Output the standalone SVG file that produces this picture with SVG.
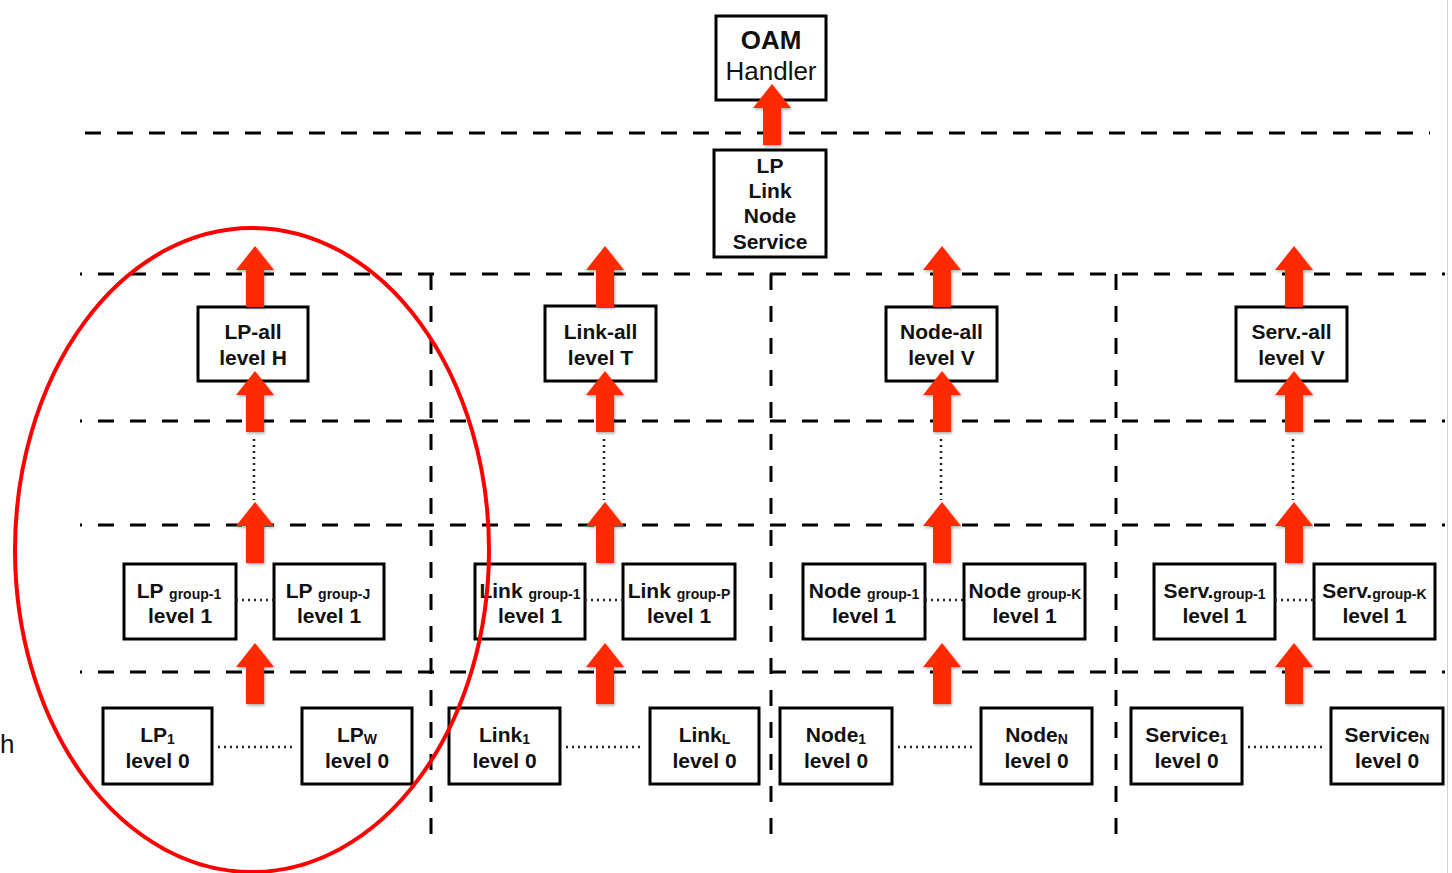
<svg xmlns="http://www.w3.org/2000/svg" width="1452" height="873" viewBox="0 0 1452 873">
<style>
.box{fill:#fff;stroke:#000;stroke-width:3}
.t{font-family:"Liberation Sans",Arial,sans-serif;font-weight:bold;font-size:21px;fill:#111;text-anchor:middle}
.s{font-size:14px;font-weight:bold}
.g{font-size:14px;font-weight:bold}
.dash{stroke:#000;stroke-width:3;stroke-dasharray:16 16;fill:none}
.dot{stroke:#222;stroke-width:2.5;stroke-dasharray:2 4;fill:none}
.arr{fill:#ff2a00;filter:url(#sh)}
</style>
<defs>
<filter id="sh" x="-50%" y="-50%" width="200%" height="200%"><feDropShadow dx="1" dy="1.5" stdDeviation="1.5" flood-color="#000" flood-opacity="0.35"/></filter>
<path id="arrow" d="M0 0 L19 24 L9 24 L9 61 L-9 61 L-9 24 L-19 24 Z"/>
</defs>
<rect width="1452" height="873" fill="#fff"/>
<line x1="1447.5" y1="0" x2="1447.5" y2="873" stroke="#d0d0d0" stroke-width="1"/>
<text x="0" y="753" style="font-family:'Liberation Sans',Arial,sans-serif;font-size:26px;fill:#111">h</text>
<g id="grid">
<line class="dash" x1="85" y1="133" x2="1430" y2="133"/>
<line class="dash" x1="80" y1="274" x2="1445" y2="274" stroke-dashoffset="14"/>
<line class="dash" x1="80" y1="421" x2="1445" y2="421" stroke-dashoffset="14"/>
<line class="dash" x1="80" y1="525" x2="1445" y2="525" stroke-dashoffset="14"/>
<line class="dash" x1="80" y1="672" x2="1445" y2="672" stroke-dashoffset="14"/>
<line class="dash" x1="431" y1="274" x2="431" y2="840"/>
<line class="dash" x1="771" y1="274" x2="771" y2="840"/>
<line class="dash" x1="1116" y1="274" x2="1116" y2="845"/>
</g>
<g id="n-oam"><rect class="box" x="716" y="16" width="110" height="84"/>
<text class="t" x="771" y="49" style="font-size:26px">OAM</text>
<text class="t" x="771" y="80" style="font-size:26px;font-weight:normal">Handler</text></g>
<g id="n-all"><rect class="box" x="714" y="150" width="112" height="107"/>
<text class="t" x="770" y="173">LP</text><text class="t" x="770" y="198">Link</text><text class="t" x="770" y="223">Node</text><text class="t" x="770" y="249">Service</text></g>
<g id="n-lpall"><rect class="box" x="198" y="307" width="110" height="74"/><text class="t" x="253" y="339">LP-all</text><text class="t" x="253" y="365">level H</text></g>
<g id="n-linkall"><rect class="box" x="545" y="306" width="111" height="75"/><text class="t" x="600.5" y="339">Link-all</text><text class="t" x="600.5" y="365">level T</text></g>
<g id="n-nodeall"><rect class="box" x="886" y="307" width="111" height="74"/><text class="t" x="941.5" y="339">Node-all</text><text class="t" x="941.5" y="365">level V</text></g>
<g id="n-servall"><rect class="box" x="1236" y="307" width="111" height="74"/><text class="t" x="1291.5" y="339">Serv.-all</text><text class="t" x="1291.5" y="365">level V</text></g>
<g id="n-lpg1"><rect class="box" x="124" y="564" width="112" height="75"/><text class="t" x="179" y="598">LP <tspan class="g" dy="1">group-1</tspan></text><text class="t" x="180" y="623">level 1</text></g>
<g id="n-lpgj"><rect class="box" x="274" y="564" width="110" height="75"/><text class="t" x="328" y="598">LP <tspan class="g" dy="1">group-J</tspan></text><text class="t" x="329" y="623">level 1</text></g>
<g id="n-linkg1"><rect class="box" x="475" y="564" width="110" height="75"/><text class="t" x="530" y="598">Link <tspan class="g" dy="1">group-1</tspan></text><text class="t" x="530" y="623">level 1</text></g>
<g id="n-linkgp"><rect class="box" x="623" y="564" width="112" height="75"/><text class="t" x="679" y="598">Link <tspan class="g" dy="1">group-P</tspan></text><text class="t" x="679" y="623">level 1</text></g>
<g id="n-nodeg1"><rect class="box" x="803" y="564" width="122" height="75"/><text class="t" x="864" y="598">Node <tspan class="g" dy="1">group-1</tspan></text><text class="t" x="864" y="623">level 1</text></g>
<g id="n-nodegk"><rect class="box" x="964" y="564" width="121" height="75"/><text class="t" x="1025" y="598">Node <tspan class="g" dy="1">group-K</tspan></text><text class="t" x="1024.5" y="623">level 1</text></g>
<g id="n-servg1"><rect class="box" x="1154" y="564" width="121" height="75"/><text class="t" x="1214.5" y="598">Serv.<tspan class="g" dy="1">group-1</tspan></text><text class="t" x="1214.5" y="623">level 1</text></g>
<g id="n-servgk"><rect class="box" x="1314" y="564" width="121" height="75"/><text class="t" x="1374.5" y="598">Serv.<tspan class="g" dy="1">group-K</tspan></text><text class="t" x="1374.5" y="623">level 1</text></g>
<g id="n-lp1"><rect class="box" x="103" y="708" width="109" height="76"/><text class="t" x="157.5" y="742">LP<tspan class="s" dy="2">1</tspan></text><text class="t" x="157.5" y="768">level 0</text></g>
<g id="n-lpw"><rect class="box" x="302" y="708" width="110" height="76"/><text class="t" x="357" y="742">LP<tspan class="s" dy="2">W</tspan></text><text class="t" x="357" y="768">level 0</text></g>
<g id="n-link1"><rect class="box" x="449" y="708" width="111" height="76"/><text class="t" x="504.5" y="742">Link<tspan class="s" dy="2">1</tspan></text><text class="t" x="504.5" y="768">level 0</text></g>
<g id="n-linkl"><rect class="box" x="650" y="708" width="109" height="76"/><text class="t" x="704.5" y="742">Link<tspan class="s" dy="2">L</tspan></text><text class="t" x="704.5" y="768">level 0</text></g>
<g id="n-node1"><rect class="box" x="780" y="708" width="112" height="76"/><text class="t" x="836" y="742">Node<tspan class="s" dy="2">1</tspan></text><text class="t" x="836" y="768">level 0</text></g>
<g id="n-noden"><rect class="box" x="981" y="708" width="111" height="76"/><text class="t" x="1036.5" y="742">Node<tspan class="s" dy="2">N</tspan></text><text class="t" x="1036.5" y="768">level 0</text></g>
<g id="n-serv1"><rect class="box" x="1131" y="708" width="111" height="76"/><text class="t" x="1186.5" y="742">Service<tspan class="s" dy="2">1</tspan></text><text class="t" x="1186.5" y="768">level 0</text></g>
<g id="n-servn"><rect class="box" x="1331" y="708" width="112" height="76"/><text class="t" x="1387" y="742">Service<tspan class="s" dy="2">N</tspan></text><text class="t" x="1387" y="768">level 0</text></g>
<g id="connectors">
<line class="dot" x1="236" y1="600" x2="274" y2="600"/>
<line class="dot" x1="585" y1="600" x2="623" y2="600"/>
<line class="dot" x1="925" y1="600" x2="964" y2="600"/>
<line class="dot" x1="1275" y1="600" x2="1314" y2="600"/>
<line class="dot" x1="218" y1="747" x2="296" y2="747"/>
<line class="dot" x1="566" y1="747" x2="644" y2="747"/>
<line class="dot" x1="898" y1="747" x2="976" y2="747"/>
<line class="dot" x1="1248" y1="747" x2="1326" y2="747"/>
<line class="dot" x1="254" y1="439" x2="254" y2="500"/>
<line class="dot" x1="604" y1="439" x2="604" y2="500"/>
<line class="dot" x1="941" y1="439" x2="941" y2="500"/>
<line class="dot" x1="1293" y1="439" x2="1293" y2="500"/>
<use href="#arrow" class="arr" x="772" y="84"/>
<use href="#arrow" class="arr" x="255" y="246"/>
<use href="#arrow" class="arr" x="255" y="371"/>
<use href="#arrow" class="arr" x="255" y="502"/>
<use href="#arrow" class="arr" x="255" y="643"/>
<use href="#arrow" class="arr" x="605" y="246"/>
<use href="#arrow" class="arr" x="605" y="371"/>
<use href="#arrow" class="arr" x="605" y="502"/>
<use href="#arrow" class="arr" x="605" y="643"/>
<use href="#arrow" class="arr" x="942" y="246"/>
<use href="#arrow" class="arr" x="942" y="371"/>
<use href="#arrow" class="arr" x="942" y="502"/>
<use href="#arrow" class="arr" x="942" y="643"/>
<use href="#arrow" class="arr" x="1294" y="246"/>
<use href="#arrow" class="arr" x="1294" y="371"/>
<use href="#arrow" class="arr" x="1294" y="502"/>
<use href="#arrow" class="arr" x="1294" y="643"/>
</g>
<ellipse id="highlight" cx="252" cy="550" rx="237" ry="322" fill="none" stroke="#ff0000" stroke-width="4"/>
</svg>
